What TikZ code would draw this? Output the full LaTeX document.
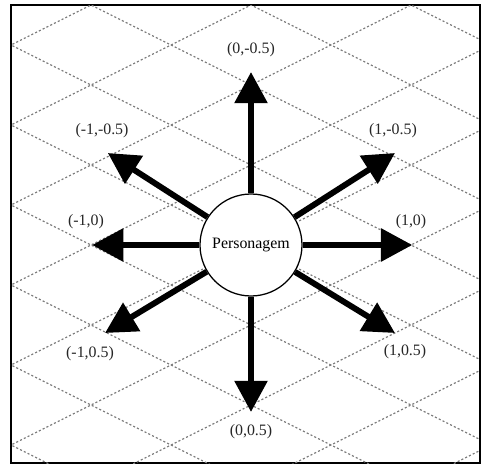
\documentclass[tikz,border=0pt]{standalone}
\usepackage{fontspec}
\setmainfont{Liberation Serif}
\usetikzlibrary{arrows.meta}

\begin{document}
\begin{tikzpicture}[
		every node/.style={font=\fontsize{11.3}{13.5}\selectfont},
		grade/.style={gray, line width=0.8pt, dash pattern=on 1.5pt off 1.5pt},
		seta/.style={line width=4.2pt, -{Triangle[length=0.78cm, width=0.8cm]}},
		rotulo/.style={text=black!85, inner sep=1pt}
	]
			\useasboundingbox (-6.275,-5.5) rectangle (5.75,6.125);
			
			% Moldura e grade isometrica
			\draw[line width=1pt] (-6,-5.45) rectangle (5.725,6);
			\begin{scope}
				\clip (-6,-5.45) rectangle (5.725,6);
				\foreach \n in {-6,...,6} {
					\draw[grade] (-7,{2*\n-3.5}) -- (7,{2*\n+3.5});
					\draw[grade] (-7,{2*\n+3.5}) -- (7,{2*\n-3.5});
				}
			\end{scope}
			
			% Personagem no centro
			\node (pers) at (0,0) [circle, draw, line width=0.9pt, fill=white, minimum size=2.55cm, inner sep=0pt] {Personagem};
			
			% Pontas das setas
			\coordinate (cima) at (0,4.325);
			\coordinate (baixo) at (0,-4.175);
			\coordinate (esq) at (-3.97,0);
			\coordinate (dir) at (4.03,0);
			\coordinate (ce) at (-3.58,2.3);
			\coordinate (cd) at (3.6,2.3);
			\coordinate (be) at (-3.65,-2.2);
			\coordinate (bd) at (3.6,-2.2);
			
			% Direcoes
			\foreach \p in {cima, baixo, esq, dir, ce, cd, be, bd}
				\draw[seta] (pers) -- (\p);
			
			% Rotulos
			\node (rcima) at (0,4.875) [rotulo] {(0,-0.5)};
			\node (rbaixo) at (0,-4.675) [rotulo] {(0,0.5)};
			\node (resq) at (-4.125,0.575) [rotulo] {(-1,0)};
			\node (rdir) at (4.0,0.575) [rotulo] {(1,0)};
			\node (rce) at (-3.725,2.85) [rotulo] {(-1,-0.5)};
			\node (rcd) at (3.55,2.85) [rotulo] {(1,-0.5)};
			\node (rbe) at (-4.025,-2.725) [rotulo] {(-1,0.5)};
			\node (rbd) at (3.85,-2.675) [rotulo] {(1,0.5)};
		\end{tikzpicture}
\end{document}
